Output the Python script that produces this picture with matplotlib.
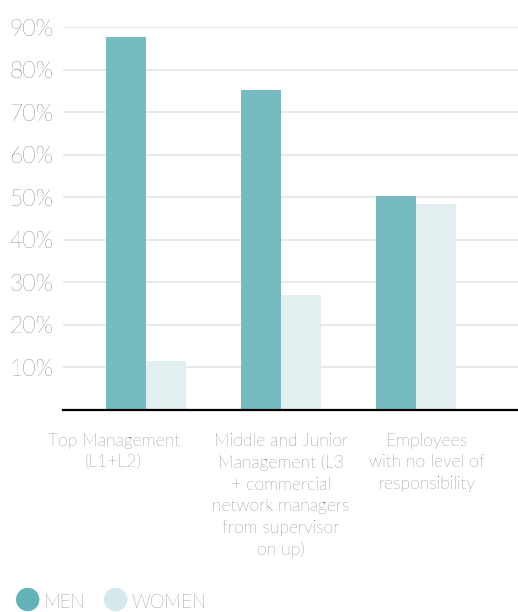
import matplotlib.pyplot as plt
from matplotlib.patches import Ellipse
import numpy as np

categories = ["Top Management\n(L1+L2)",
              "Middle and Junior\nManagement (L3\n+ commercial\nnetwork managers\nfrom supervisor\non up)",
              "Employees\nwith no level of\nresponsibility"]
men = [87.6, 75.3, 50.4]
women = [11.6, 27.0, 48.3]
series_names = ["MEN", "WOMEN"]
yticks = [10, 20, 30, 40, 50, 60, 70, 80, 90]

men_color = "#76BBC0"
women_color = "#E1EFF0"
text_color = "#2e2e2e"

plt.rcParams['font.family'] = ['Lato', 'DejaVu Sans']

fig = plt.figure(figsize=(5.18, 6.12), dpi=100)
ax = fig.add_axes([0.1216, 0.3301, 0.8784, 0.6258])

x = np.arange(len(categories))
w = 0.296
ax.bar(x - w / 2, men, width=w, color=men_color, zorder=2)
ax.bar(x + w / 2, women, width=w, color=women_color, zorder=2)

ax.set_xlim(-0.615, 2.755)
ax.set_ylim(0, 90)
ax.set_yticks(yticks)
ax.set_yticklabels([f"{v}%" for v in yticks], fontsize=16.5, color=text_color,
                   fontweight='light')
ax.tick_params(axis='y', length=0, pad=7)
ax.set_xticks([])

ax.yaxis.grid(True, color="#e6e6e6", linewidth=1.3, zorder=0)
ax.set_axisbelow(True)
for s in ["top", "right", "left"]:
    ax.spines[s].set_visible(False)
ax.spines["bottom"].set_linewidth(1.6)
ax.spines["bottom"].set_color("black")

# category labels, shifted a bit like the original
label_shift = [-0.24, 0.0, 0.08]
for i, lab in enumerate(categories):
    ax.text(x[i] + label_shift[i], -5.3, lab, ha='center', va='top',
            fontsize=12.6, color=text_color, linespacing=1.43,
            fontweight='light')

# legend with round markers at the bottom left
leg_colors = ["#62B3B8", "#D4E9EB"]
leg_x = [27.7, 115.7]
for name, col, cx in zip(series_names, leg_colors, leg_x):
    fig.add_artist(Ellipse((cx / 518, 1 - 599.5 / 612), 22 / 518, 22 / 612,
                           transform=fig.transFigure, color=col))
    fig.text((cx + 16) / 518, 1 - 603.5 / 612, name, fontsize=13.5,
             color=text_color, va='center', ha='left', fontweight='light')

fig.savefig("out.png", dpi=100)
